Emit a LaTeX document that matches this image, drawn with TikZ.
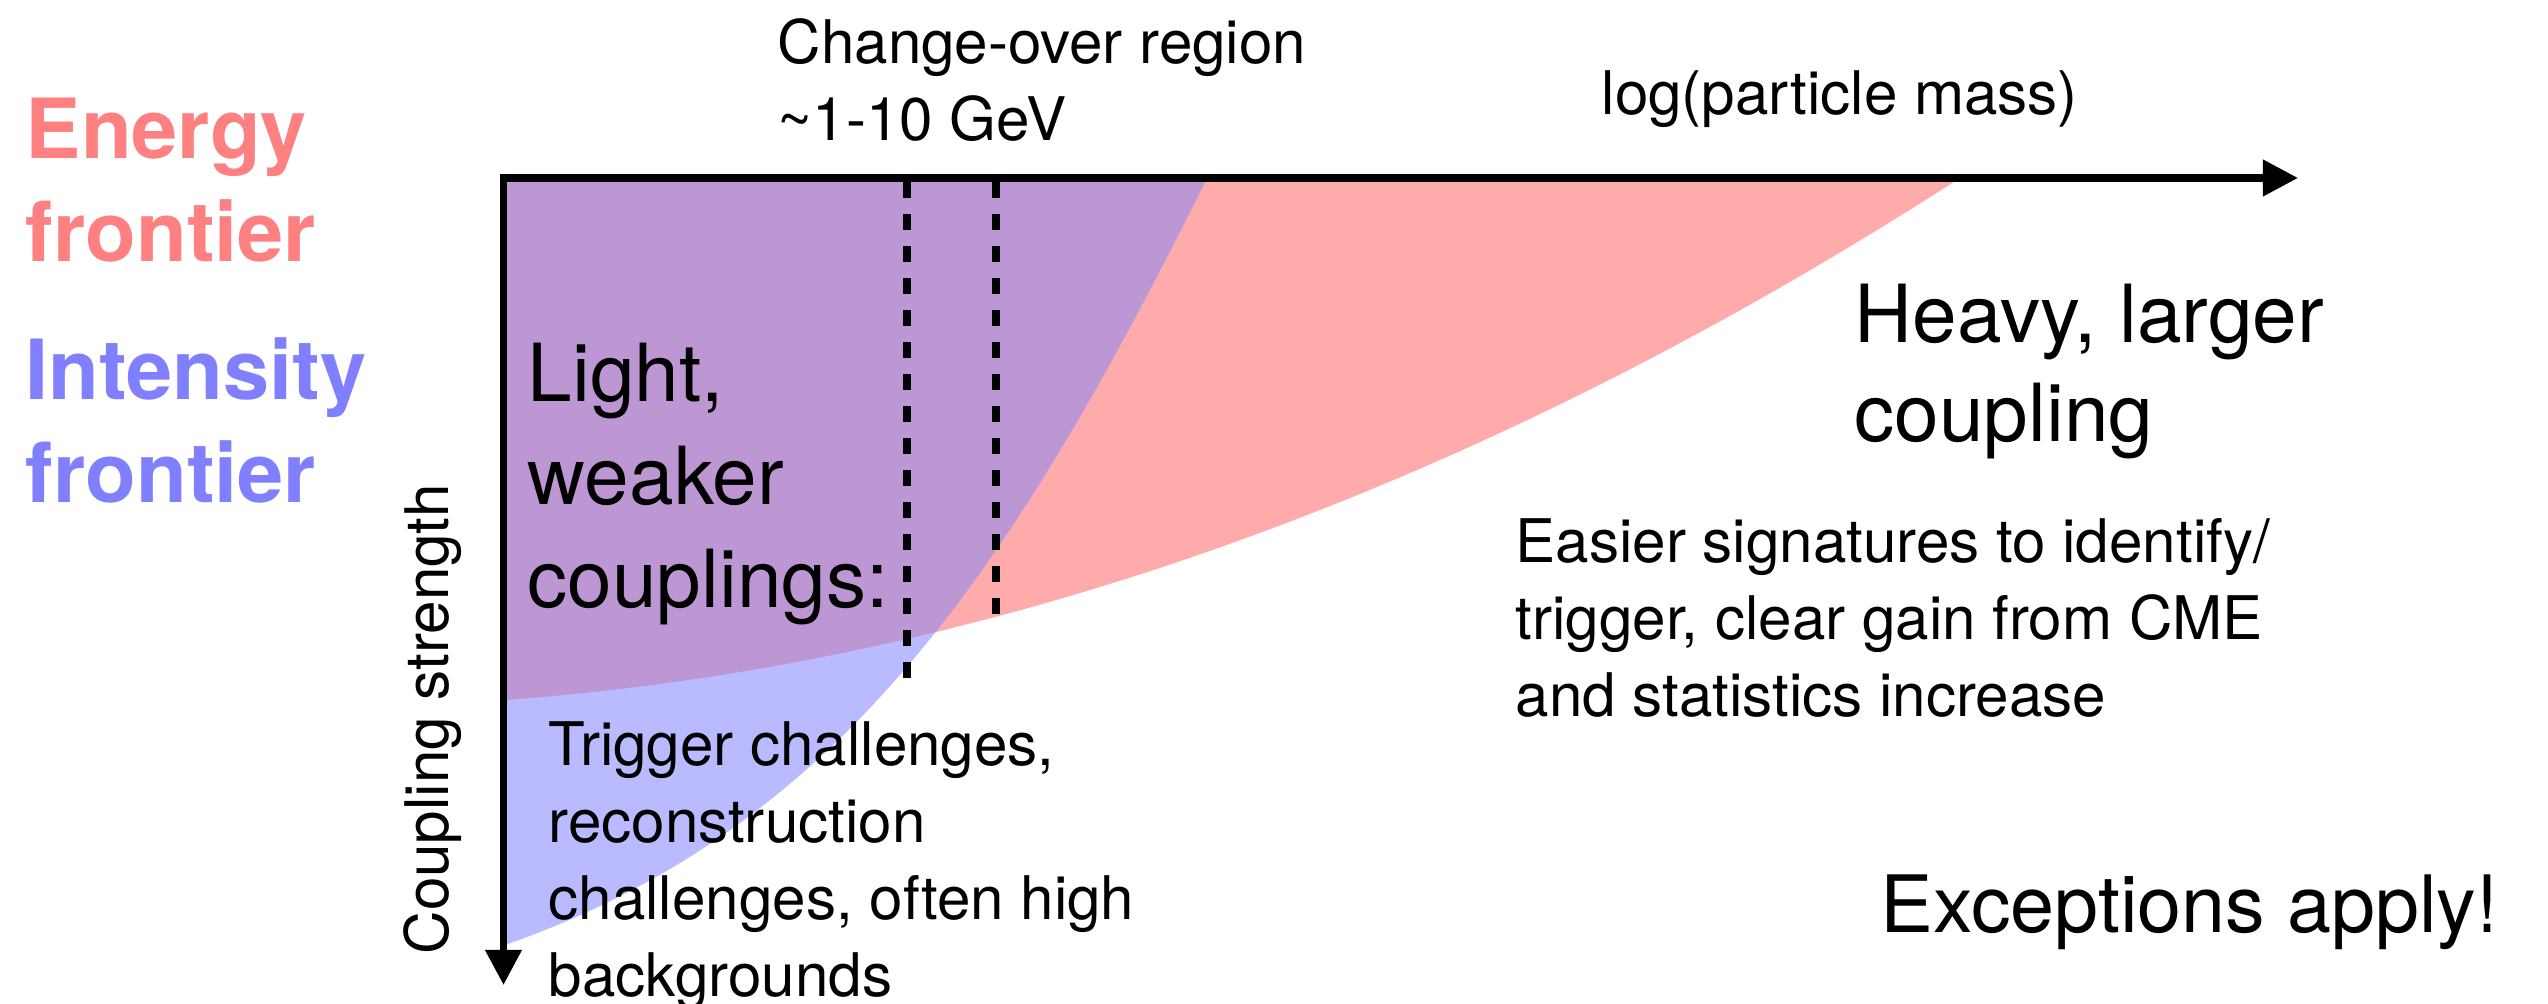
\documentclass[tikz,border=0pt]{standalone}
\usepackage{fontspec}
\setmainfont{TeX Gyre Heros}
\usetikzlibrary{arrows.meta}
\definecolor{redfill}{HTML}{FFABAB}
\definecolor{bluefill}{HTML}{B9BAFF}
\definecolor{purplefill}{HTML}{BC97D4}
\definecolor{energyred}{HTML}{FF8080}
\definecolor{intensityblue}{HTML}{8080FF}
\begin{document}
\begin{tikzpicture}[x=0.01cm,y=-0.01cm,
  txt/.style={inner sep=0pt, anchor=base west, align=left},
  small/.style={txt, font=\fontsize{17.1pt}{21.9pt}\selectfont},
  big/.style={txt, font=\fontsize{22.8pt}{29.4pt}\selectfont},
  frontier/.style={txt, font=\fontsize{23.6pt}{29.3pt}\selectfont\bfseries},
  axisline/.style={line width=2pt, line join=miter,
    {Triangle[length=10pt,width=10pt]}-{Triangle[length=10pt,width=10pt]}},
  divider/.style={line width=2.3pt, dash pattern=on 4.55pt off 4.55pt}
]
\useasboundingbox (0,0) rectangle (2548,1004);

% regions
\fill[redfill] (505,178) -- (505,700) .. controls (990,664.5) and (1475,490.5) .. (1960,178) -- cycle;
\fill[bluefill] (505,178) -- (505,945) .. controls (835,829.5) and (1007,581) .. (1207,178) -- cycle;
\begin{scope}
  \clip (505,178) -- (505,700) .. controls (990,664.5) and (1475,490.5) .. (1960,178) -- cycle;
  \fill[purplefill] (505,178) -- (505,945) .. controls (835,829.5) and (1007,581) .. (1207,178) -- cycle;
\end{scope}

% change-over dashed lines
\coordinate (d1top) at (907,182);
\coordinate (d1bot) at (907,678);
\coordinate (d2top) at (996,182);
\coordinate (d2bot) at (996,614);
\draw[divider] (d1top) -- (d1bot);
\draw[divider] (d2top) -- (d2bot);

% axes
\coordinate (O) at (503.5,178);
\coordinate (xend) at (2298,178);
\coordinate (yend) at (503.5,985);
\draw[axisline] (yend) -- (O) -- (xend);

% texts (multi-line nodes are placed by the baseline of their last line)
\node[frontier, text=energyred] (energy) at (25,262) {Energy\\frontier};
\node[frontier, text=intensityblue] (intensity) at (25,503) {Intensity\\frontier};
\node[small] (change) at (777,141) {Change-over region\\\textasciitilde1-10 GeV};
\node[small] (xlabel) at (1601,115) {log(particle mass)};
\node[small, rotate=90] (ylabel) at (448,955) {Coupling strength};
\node[big] (light) at (527,608) {Light,\\weaker\\couplings:};
\node[big, font=\fontsize{22.8pt}{28.2pt}\selectfont] (heavy) at (1854,442) {Heavy, larger\\coupling};
\node[small] (easier) at (1515,717) {Easier signatures to identify/\\trigger, clear gain from CME\\and statistics increase};
\node[small] (trigger) at (548,997) {Trigger challenges,\\reconstruction\\challenges, often high\\backgrounds};
\node[txt, font=\fontsize{22.5pt}{28pt}\selectfont] (except) at (1880,933) {Exceptions apply!};
\end{tikzpicture}
\end{document}
